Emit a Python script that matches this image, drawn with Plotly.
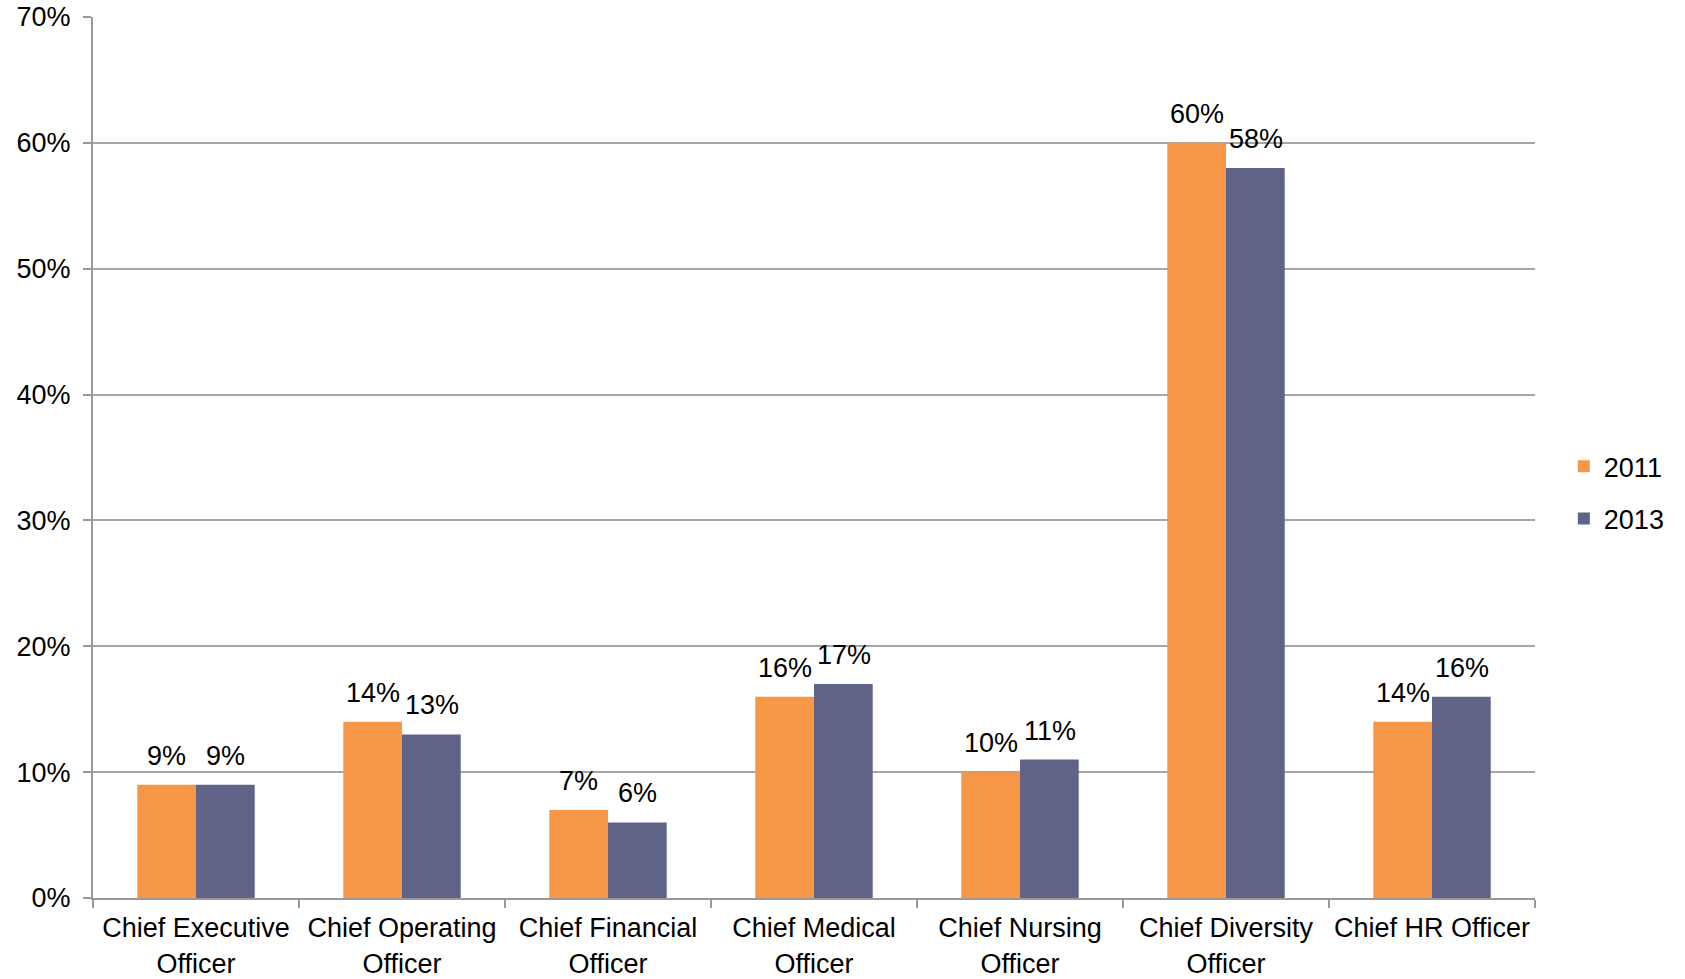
import plotly.graph_objects as go

categories = ["Chief Executive<br>Officer", "Chief Operating<br>Officer", "Chief Financial<br>Officer",
              "Chief Medical<br>Officer", "Chief Nursing<br>Officer", "Chief Diversity<br>Officer",
              "Chief HR Officer"]
vals_2011 = [9, 14, 7, 16, 10, 60, 14]
vals_2013 = [9, 13, 6, 17, 11, 58, 16]
series_names = ["2011", "2013"]
colors = ["#F79646", "#5F6388"]

FONT = "Liberation Sans, Arial"
FS = 27

fig = go.Figure()
for name, vals, col in zip(series_names, [vals_2011, vals_2013], colors):
    fig.add_trace(go.Bar(
        x=categories, y=[v / 100 for v in vals], name=name, legendgroup=name,
        marker=dict(color=col, line=dict(width=0)),
        cliponaxis=False,
    ))

# data labels placed above each bar (offset by half a bar within each group)
half_bar = 29.5
for shift, vals in zip([-half_bar, half_bar], [vals_2011, vals_2013]):
    for c, v in zip(categories, vals):
        fig.add_annotation(x=c, y=v / 100, text=f"{v}%", showarrow=False,
                           xshift=shift, yshift=12, yanchor="bottom",
                           font=dict(size=FS, color="#000000", family=FONT))

fig.update_layout(
    width=1685, height=979,
    barmode="group", bargap=0.43, bargroupgap=0,
    plot_bgcolor="white", paper_bgcolor="white",
    margin=dict(l=93, r=150, t=17, b=81, autoexpand=False),
    font=dict(family=FONT, size=FS, color="#000000"),
    showlegend=True,
    legend=dict(x=1.02, y=0.46, xanchor="left", yanchor="middle",
                font=dict(size=FS), tracegroupgap=14, itemwidth=30),
)
fig.update_xaxes(
    showline=True, linecolor="#999999", linewidth=2, automargin=False,
    ticks="outside", tickson="boundaries", ticklen=8, tickcolor="#999999", tickwidth=2,
    showgrid=False, tickfont=dict(size=FS), ticklabelstandoff=5, tickangle=0,
)
fig.update_yaxes(
    range=[0, 0.7], dtick=0.1, tickformat=".0%", automargin=False,
    showline=True, linecolor="#999999", linewidth=2,
    ticks="outside", ticklen=8, tickcolor="#999999", tickwidth=2,
    showgrid=True, gridcolor="#A6A6A6", gridwidth=1.5,
    zeroline=False, tickfont=dict(size=FS), ticklabelstandoff=7,
)
fig.write_html("out.html", config={"displayModeBar": False},
               post_script="document.body.style.margin='0';document.body.style.overflow='hidden';")
